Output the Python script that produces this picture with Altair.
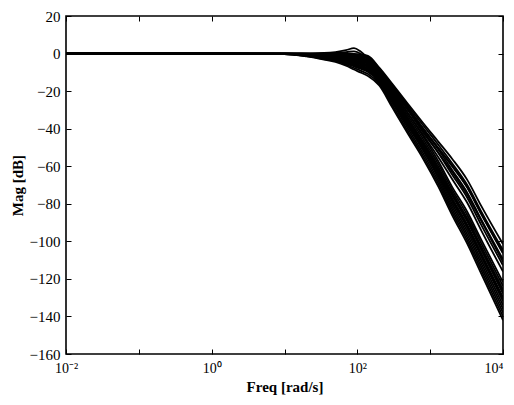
import altair as alt
import pandas as pd

freqs = [0.01, 10, 20, 35, 50, 70, 90, 110, 140, 200, 300, 500, 800, 1300, 2000, 3200, 5000, 10000]

# Magnitude curves in dB
c01 = [0, 0, 0, 0, 0, 0, -0.2, -0.5, -1.2, -7.5, -16, -27, -37, -47, -56, -67, -81, -101.5]
c02 = [0, 0, -0.1, -0.2, -0.2, -0.3, -0.6, -1.0, -1.7, -8.0, -16.6, -27.9, -38.2, -48.7, -58.4, -69.7, -83.9, -104.7]
c03 = [0, 0, -0.15, -0.3, -0.45, -0.65, -1.0, -1.45, -2.3, -8.45, -17.25, -29, -39.85, -51.2, -62, -73.8, -88.2, -109.6]
c04 = [0, -0.05, -0.2, -0.5, -0.7, -1.0, -1.45, -1.9, -2.8, -8.9, -17.9, -29.9, -41.1, -52.9, -64.4, -76.5, -91.1, -112.8]
c05 = [0, -0.1, -0.45, -0.95, -1.35, -1.95, -2.7, -3.35, -4.45, -10.35, -19.75, -32, -43.3, -55.3, -66.8, -79.2, -94, -116.1]
c06 = [0, -0.06, -0.3, -0.65, -0.9, -1.3, -1.86, -2.4, -3.36, -9.4, -18.5, -29.9, -40, -50.4, -59.6, -71.1, -85.3, -106.4]
p01 = [0, 0, 0.1, 0.3, 0.8, 1.8, 2.9, 1.2, -2.5, -8.5, -17.5, -29, -40, -50.5, -60, -71, -85, -106]
p02 = [0, 0, 0, 0.1, 0.3, 0.8, 1.2, 0, -3, -9, -18.5, -30.5, -42, -53, -63, -75, -89, -111]
c09 = [0, -0.08, -0.4, -0.8, -1.1, -1.6, -2.3, -2.9, -3.9, -9.9, -19.1, -32, -44.1, -57.5, -71, -84, -99, -121.75]
c10 = [0, -0.1, -0.5, -1.1, -1.6, -2.3, -3.1, -3.8, -5.0, -10.8, -20.4, -33.4, -45.55, -59, -72.5, -85.7, -100.8, -123.8]
c11 = [0, -0.14, -0.7, -1.45, -2.0, -2.9, -3.9, -4.8, -6.1, -11.8, -21.6, -34.8, -47, -60.5, -74, -87.4, -102.6, -125.8]
c12 = [0, -0.15, -0.75, -1.6, -2.25, -3.25, -4.35, -5.25, -6.6, -12.25, -22.25, -35.6, -47.9, -61.7, -75.5, -89.1, -104.4, -127.8]
c13 = [0, -0.17, -0.8, -1.75, -2.5, -3.6, -4.8, -5.7, -7.1, -12.7, -22.9, -36.4, -48.9, -62.9, -77, -90.8, -106.2, -129.85]
c14 = [0, -0.18, -0.9, -1.9, -2.7, -3.9, -5.2, -6.2, -7.7, -13.2, -23.5, -37.2, -49.8, -64.1, -78.5, -92.5, -108, -131.9]
c15 = [0, -0.2, -1.0, -2.1, -2.9, -4.2, -5.6, -6.7, -8.2, -13.7, -24.1, -38, -50.8, -65.3, -80, -94.2, -109.8, -133.9]
c16 = [0, -0.2, -1.05, -2.25, -3.15, -4.55, -6.0, -7.15, -8.75, -14.15, -24.75, -38.8, -51.7, -66.5, -81.5, -95.9, -111.6, -135.9]
c17 = [0, -0.24, -1.2, -2.55, -3.6, -5.2, -6.85, -8.1, -9.85, -15.1, -26, -40.2, -53.15, -68, -83, -97.6, -113.4, -137.95]
c18 = [0, -0.27, -1.35, -2.9, -4.05, -5.85, -7.7, -9.05, -10.9, -16.05, -27.25, -41.6, -54.6, -69.5, -84.5, -99.3, -115.2, -140]
c19 = [0, -0.3, -1.5, -3.2, -4.5, -6.5, -8.5, -10, -12, -17, -28.5, -43, -56, -71, -86, -101, -117, -142]
c20 = [0, -0.22, -1.1, -2.4, -3.4, -4.9, -6.4, -7.6, -9.3, -14.6, -25.4, -38.5, -50, -62.7, -74.6, -88.1, -103.3, -126.6]
c21 = [0, -0.12, -0.6, -1.3, -1.8, -2.6, -3.5, -4.3, -5.5, -11.3, -21, -34.7, -47.6, -62.4, -77.6, -91.5, -106.9, -130.7]

curves = {
    "c01": c01, "c02": c02, "c03": c03, "c04": c04, "c05": c05, "c06": c06,
    "p01": p01, "p02": p02, "c09": c09, "c10": c10, "c11": c11, "c12": c12,
    "c13": c13, "c14": c14, "c15": c15, "c16": c16, "c17": c17, "c18": c18,
    "c19": c19, "c20": c20, "c21": c21,
}

# Axis ticks and labels
x_ticks = [0.01, 0.1, 1, 10, 100, 1000, 10000]
x_tick_exps = [-2, 0, 2, 4]
x_tick_labels = ["10\u207b\u00b2", "10\u2070", "10\u00b2", "10\u2074"]
y_ticks = [20, 0, -20, -40, -60, -80, -100, -120, -140, -160]

rows = []
for name, vals in curves.items():
    for f, m in zip(freqs, vals):
        rows.append({"curve": name, "freq": f, "mag": m})
df = pd.DataFrame(rows)

label_expr = ""
for e, lab in zip(x_tick_exps, x_tick_labels):
    label_expr += f"round(log(datum.value)/LN10) == {e} ? '{lab}' : "
label_expr += "''"

FONT = "Liberation Serif"
xscale = alt.Scale(type="log", domain=[0.01, 10000], nice=False)
yscale = alt.Scale(domain=[-160, 20], nice=False, zero=False)

common_axis = dict(tickSize=5, offset=-5, domain=False, grid=False,
                   tickColor="black", tickWidth=1)

lines = alt.Chart(df).mark_line(color="black", strokeWidth=1.8,
                                interpolate="monotone", clip=True).encode(
    x=alt.X("freq:Q", scale=xscale,
            axis=alt.Axis(orient="bottom", values=x_ticks, labelExpr=label_expr,
                          title="Freq [rad/s]", labelFont=FONT, labelFontSize=14,
                          labelColor="black", labelPadding=7,
                          labelAlign={"condition": {"test": "datum.value >= 5000",
                                                    "value": "right"},
                                      "value": "center"},
                          titleFont=FONT, titleFontSize=15, titleFontWeight="bold",
                          titleColor="black", titlePadding=4, labelFlush=False,
                          **common_axis)),
    y=alt.Y("mag:Q", scale=yscale,
            axis=alt.Axis(orient="left", values=y_ticks, title="Mag [dB]",
                          labelFont=FONT, labelFontSize=15, labelColor="black",
                          labelPadding=6, labelFlush=False,
                          titleFont=FONT, titleFontSize=15, titleFontWeight="bold",
                          titleColor="black", titlePadding=4,
                          **common_axis)),
    detail="curve:N",
)

frame_axes = alt.Chart(df).mark_line(opacity=0).encode(
    x=alt.X("freq:Q", scale=xscale,
            axis=alt.Axis(orient="top", values=x_ticks, labels=False, title=None,
                          **common_axis)),
    y=alt.Y("mag:Q", scale=yscale,
            axis=alt.Axis(orient="right", values=y_ticks, labels=False, title=None,
                          **common_axis)),
    detail="curve:N",
)

chart = alt.layer(lines, frame_axes).resolve_scale(
    x="independent", y="independent"
).properties(
    width=437, height=338,
    padding={"left": 58, "top": 8, "right": 3, "bottom": 43},
    autosize=alt.AutoSizeParams(type="none"),
    background="white",
).configure_view(stroke="black", strokeWidth=1.6)

chart.save("out.html", embed_options={"renderer": "svg", "actions": False})
